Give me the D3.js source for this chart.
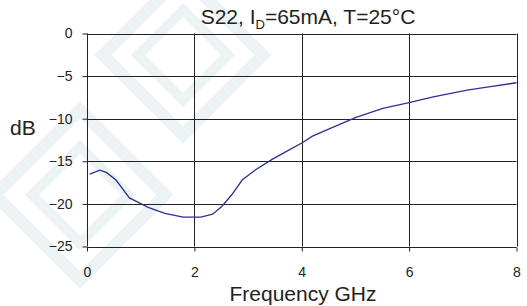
<!DOCTYPE html>
<html>
<head>
<meta charset="utf-8">
<script src="https://cdn.jsdelivr.net/npm/d3@7"></script>
<style>
  body { margin: 0; background: #fff; }
  text { font-family: "Liberation Sans", Arial, sans-serif; fill: #222; }
</style>
</head>
<body>
<div id="chart"></div>
<script>
// S22 vs frequency

var freq = [0.05, 0.24, 0.36, 0.54, 0.79, 1.14, 1.45, 1.79, 2.12, 2.34, 2.51, 2.7, 2.89, 3.14,
            3.44, 3.7, 4.0, 4.2, 4.64, 5.01, 5.51, 6.0, 6.45, 7.08, 7.45, 8.0];
var s22 = [-16.5, -16.05, -16.3, -17.2, -19.3, -20.4, -21.1, -21.55, -21.55, -21.2, -20.3, -18.9, -17.2, -16.0,
           -14.8, -13.9, -12.85, -12.05, -10.85, -9.85, -8.8, -8.1, -7.45, -6.65, -6.3, -5.78];
var xTicks = [0, 2, 4, 6, 8];
var yTicks = [0, -5, -10, -15, -20, -25];

var width = 527, height = 306;
var margin = {top: 33.5, right: 10.5, bottom: 59.5, left: 87};

var svg = d3.select("#chart")
  .append("svg")
  .attr("width", width)
  .attr("height", height);

// faint watermark in the background
var wm = svg.append("g").attr("fill", "none").attr("stroke", "#ebf3f4");
function diamond(cx, cy, r) {
  return `M${cx},${cy - r}L${cx + r},${cy}L${cx},${cy + r}L${cx - r},${cy}Z`;
}
wm.append("path").attr("d", diamond(183, 55, 80)).attr("stroke-width", 12);
wm.append("path").attr("d", diamond(183, 55, 45)).attr("stroke-width", 10);
wm.append("path").attr("d", diamond(80, 195, 85)).attr("stroke-width", 12);
wm.append("path").attr("d", diamond(80, 195, 48)).attr("stroke-width", 10);

var xScale = d3.scaleLinear()
  .domain([0, 8])
  .range([margin.left, width - margin.right]);

var yScale = d3.scaleLinear()
  .domain([-25, 0])
  .range([height - margin.bottom, margin.top]);

// grid
svg.append("g")
  .selectAll("line")
  .data(yTicks)
  .enter().append("line")
  .attr("x1", margin.left)
  .attr("x2", width - margin.right)
  .attr("y1", d => Math.round(yScale(d)) + 0.5)
  .attr("y2", d => Math.round(yScale(d)) + 0.5)
  .attr("stroke", "#222");

svg.append("g")
  .selectAll("line")
  .data(xTicks)
  .enter().append("line")
  .attr("x1", d => Math.round(xScale(d)) + 0.5)
  .attr("x2", d => Math.round(xScale(d)) + 0.5)
  .attr("y1", margin.top)
  .attr("y2", height - margin.bottom)
  .attr("stroke", "#222");

// axes
var xAxis = svg.append("g")
  .attr("transform", `translate(0, ${Math.round(yScale(-25)) + 0.5})`)
  .call(d3.axisBottom(xScale).tickValues(xTicks).tickSize(4).tickPadding(16).tickSizeOuter(0));
xAxis.select(".domain").remove();
xAxis.selectAll("line").attr("stroke", "#222");
xAxis.selectAll("text").attr("font-size", 14).attr("fill", "#222")
  .style("font-family", "'Liberation Sans', Arial, sans-serif");

var yAxis = svg.append("g")
  .attr("transform", `translate(${margin.left + 0.5}, 0)`)
  .call(d3.axisLeft(yScale).tickValues(yTicks).tickSize(5).tickPadding(10).tickSizeOuter(0));
yAxis.select(".domain").remove();
yAxis.selectAll("line").attr("stroke", "#222");
yAxis.selectAll("text").attr("font-size", 14).attr("fill", "#222")
  .style("font-family", "'Liberation Sans', Arial, sans-serif");

// data line
var line = d3.line()
  .x((d, i) => xScale(freq[i]))
  .y(d => yScale(d));

svg.append("path")
  .datum(s22)
  .attr("fill", "none")
  .attr("stroke", "#2e3192")
  .attr("stroke-width", 1.3)
  .attr("d", line);

// labels
var title = svg.append("text")
  .attr("x", 308)
  .attr("y", 24)
  .attr("text-anchor", "middle")
  .attr("font-size", 21);
title.append("tspan").text("S22, I");
title.append("tspan").attr("font-size", 13).attr("dy", 5).text("D");
title.append("tspan").attr("dy", -5).text("=65mA, T=25°C");

svg.append("text")
  .attr("x", 10)
  .attr("y", 135)
  .attr("font-size", 21)
  .text("dB");

svg.append("text")
  .attr("x", 303)
  .attr("y", 301)
  .attr("text-anchor", "middle")
  .attr("font-size", 21)
  .text("Frequency GHz");
</script>
</body>
</html>
